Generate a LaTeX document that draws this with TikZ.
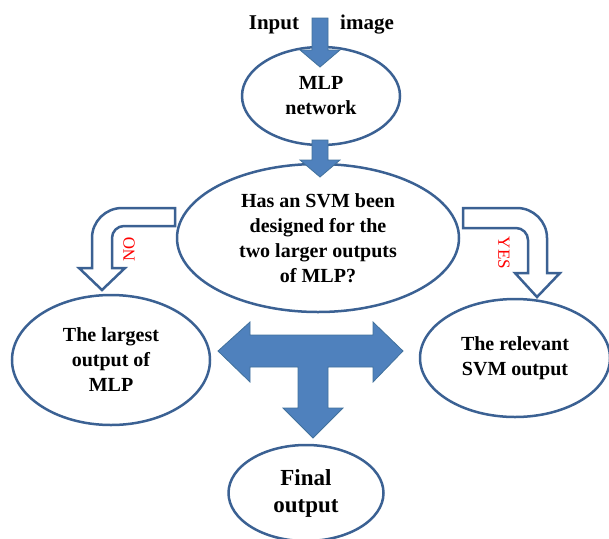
\documentclass[tikz,border=0pt]{standalone}
\usepackage{fontspec}
\setmainfont{Liberation Serif}
\usetikzlibrary{shapes.geometric}
\definecolor{edgeblue}{HTML}{3B6193}
\definecolor{fillblue}{HTML}{4F81BD}
\definecolor{fillline}{HTML}{41719C}
\begin{document}
\begin{tikzpicture}[x=1pt,y=-1pt,
  ell/.style={ellipse, draw=edgeblue, line width=2.5pt, fill=white, inner sep=0pt,
    align=center, font=\fontsize{20}{25}\selectfont\bfseries, text=black},
  blockarrow/.style={fill=fillblue, draw=fillline, line width=0.8pt, line join=miter},
  bentarrow/.style={fill=white, draw=edgeblue, line width=2.5pt, line join=miter},
  yn/.style={text=red, font=\fontsize{17}{17}\selectfont, inner sep=0pt},
  toplabel/.style={font=\fontsize{21}{21}\selectfont\bfseries, inner sep=0pt}]
\useasboundingbox (0,0) rectangle (609,538);
\clip (0,0) rectangle (609,538);

% ellipses
\node[ell, minimum width=158pt, minimum height=98pt] (mlp) at (321,96) {MLP\\network};
\node[ell, minimum width=282pt, minimum height=148pt] (q) at (318,238)
  {Has an SVM been\\designed for the\\two larger outputs\\of MLP?};
\node[ell, minimum width=198pt, minimum height=130pt] (largest) at (111,360)
  {The largest\\output of\\MLP};
\node[ell, minimum width=190pt, minimum height=118pt] (svm) at (515,358)
  {The relevant\\SVM output};
\node[ell, minimum width=155pt, minimum height=96pt,
  font=\fontsize{23}{27}\selectfont\bfseries] (final) at (306,493) {Final\\output};

% top labels
\node[toplabel] (inlbl) at (274,25) {Input};
\node[toplabel] (imglbl) at (367,25) {image};

% input arrow
\draw[blockarrow] (312,18) -- (328,18) -- (328,50) -- (340,50) -- (320,67)
  -- (300,50) -- (312,50) -- cycle;
% MLP -> question arrow
\draw[blockarrow] (312,140) -- (328,140) -- (328,160) -- (340,160) -- (320,177)
  -- (300,160) -- (312,160) -- cycle;

% NO bent arrow
\draw[bentarrow] (175,208) -- (122,208) .. controls (105.5,208) and (92,221.5) .. (92,238)
  -- (92,268) -- (79,268) -- (102,290) -- (125,268) -- (112,268) -- (112,238)
  .. controls (112,231.4) and (117.4,226) .. (124,226) -- (175,226) -- cycle;
% YES bent arrow
\draw[bentarrow] (463,208) -- (517,208) .. controls (533.5,208) and (547,221.5) .. (547,238)
  -- (547,273) -- (560,273) -- (537,297) -- (515,273) -- (528,273) -- (528,240)
  .. controls (528,233.4) and (522.6,228) .. (516,228) -- (463,228) -- cycle;

\node[yn, rotate=90] (no) at (129,249) {NO};
\node[yn, rotate=-90] (yes) at (504,253) {YES};

% T arrow
\draw[blockarrow] (218,351) -- (250,322) -- (250,335) -- (373,335) -- (373,322)
  -- (403,351) -- (373,382) -- (373,367) -- (328,367) -- (328,408) -- (343,408)
  -- (313,438) -- (283,408) -- (298,408) -- (298,367) -- (250,367) -- (250,382) -- cycle;
\end{tikzpicture}
\end{document}
